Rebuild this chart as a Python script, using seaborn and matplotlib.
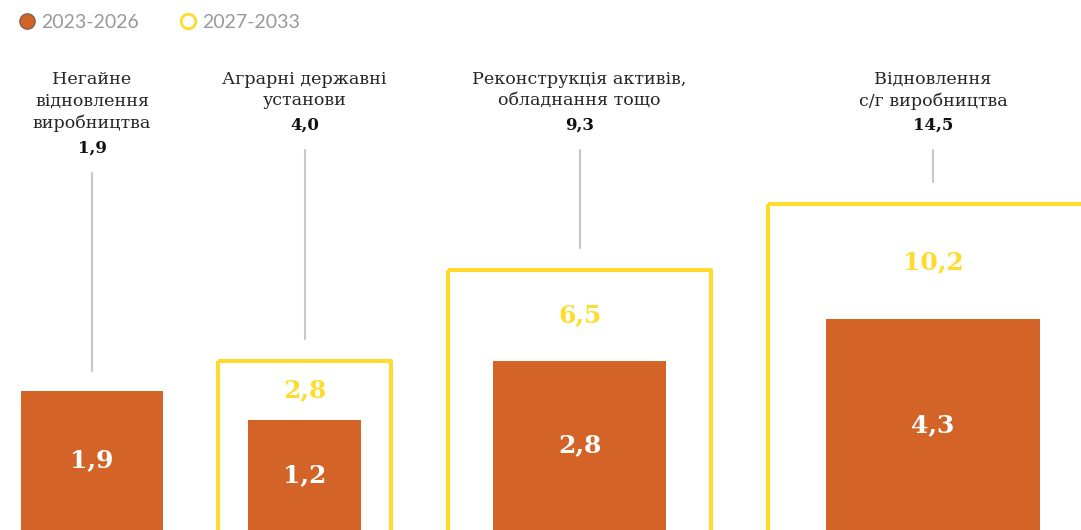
import matplotlib
matplotlib.use("Agg")
import matplotlib.pyplot as plt
from matplotlib.patches import Rectangle
from matplotlib.lines import Line2D
import numpy as np
import seaborn as sns

# %%
categories = [
    "Негайне\nвідновлення\nвиробництва",
    "Аграрні державні\nустанови",
    "Реконструкція активів,\nобладнання тощо",
    "Відновлення\nс/г виробництва",
]
totals = [1.9, 4.0, 9.3, 14.5]
near_term = [1.9, 1.2, 2.8, 4.3]    # 2023-2026
long_term = [0.0, 2.8, 6.5, 10.2]   # 2027-2033
legend_labels = ["2023-2026", "2027-2033"]

ORANGE = "#D46327"
YELLOW = "#FFDC2B"
GREY_LINE = "#C8C8C8"


def fmt(v):
    return f"{v:.1f}".replace(".", ",")


# %%
sns.set_theme(style="white")
plt.rcParams["font.family"] = ["DejaVu Serif", "DejaVu Sans"]

fig = plt.figure(figsize=(10.81, 5.30), dpi=100)
ax = fig.add_axes([0, 0, 1, 1])
ax.set_xlim(0, 1081)
ax.set_ylim(530, 0)
ax.axis("off")

k = 103        # px per sqrt(unit): square area ~ value
base = 533     # common bottom line of the squares
gap = 53.5
edge_px = 4
label_top = 71
line_h = 23

x = 21
for cat, tot, e, l in zip(categories, totals, near_term, long_term):
    side_e = k * np.sqrt(e)
    side_l = k * np.sqrt(l)
    width = max(side_e, side_l + edge_px if l > 0 else 0)
    cx = x + width / 2
    x += width + gap

    top_e = base - side_e
    if l > 0:
        top_l = base - side_l
        ax.add_patch(Rectangle((cx - side_l / 2, top_l), side_l, side_l, fill=False,
                               edgecolor=YELLOW, lw=edge_px * 0.72, joinstyle="round"))
        ax.text(cx, (top_l + top_e) / 2, fmt(l), ha="center", va="center",
                color=YELLOW, fontsize=18, fontweight="bold")
        box_top = top_l - edge_px / 2
    else:
        box_top = top_e
    ax.add_patch(Rectangle((cx - side_e / 2, top_e), side_e, side_e,
                           facecolor=ORANGE, edgecolor="none"))
    ax.text(cx, (top_e + 530) / 2, fmt(e), ha="center", va="center",
            color="white", fontsize=18, fontweight="bold")

    n = cat.count("\n") + 1
    ax.text(cx, label_top, cat, ha="center", va="top", color="#262626",
            fontsize=12.6, linespacing=1.34)
    ax.text(cx, label_top + n * line_h, fmt(tot), ha="center", va="top",
            color="#111111", fontsize=12, fontweight="bold")
    ax.plot([cx, cx], [label_top + (n + 1) * line_h + 10, box_top - 20],
            color=GREY_LINE, lw=1.5)

handles = [
    Line2D([], [], marker="o", ls="none", markersize=11, markerfacecolor=ORANGE,
           markeredgecolor="#80614f", markeredgewidth=1),
    Line2D([], [], marker="o", ls="none", markersize=10.5, markerfacecolor="white",
           markeredgecolor=YELLOW, markeredgewidth=2),
]
fig.legend(handles, legend_labels, loc="upper left", bbox_to_anchor=(0.003, 1.0),
           ncol=2, frameon=False, prop={"family": "Lato", "size": 14},
           labelcolor="#999999", handletextpad=0.25, columnspacing=2.0,
           handlelength=1.0, borderaxespad=0.3)

fig.savefig("out.png", dpi=100)
